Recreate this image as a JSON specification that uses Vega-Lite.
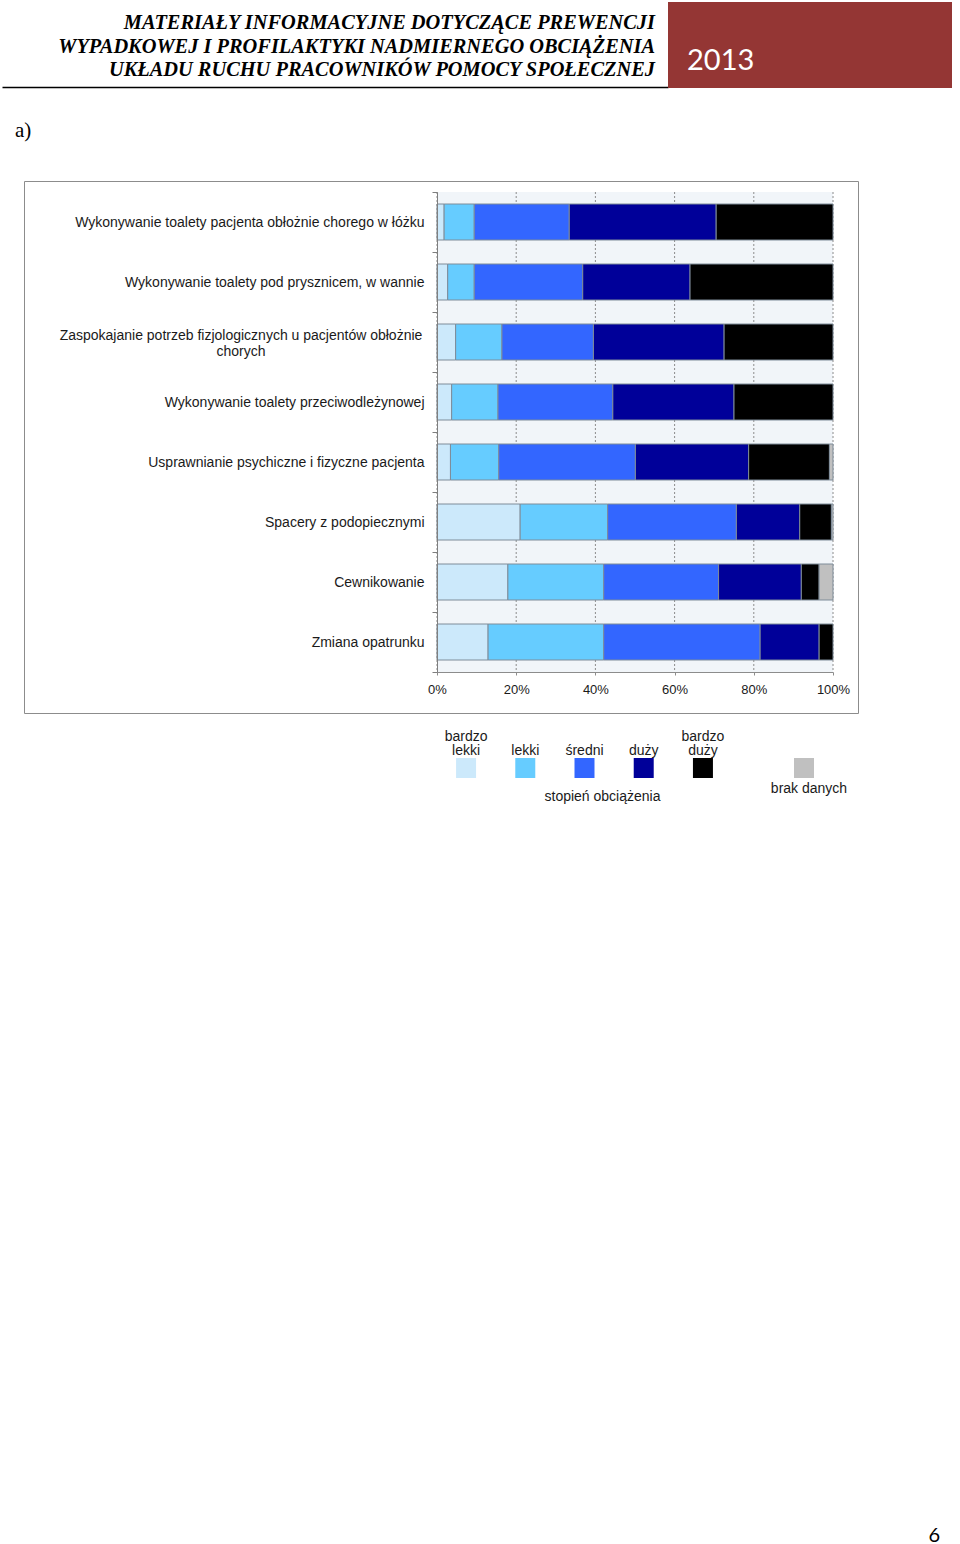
{
  "$schema": "https://vega.github.io/schema/vega-lite/v6.json",
  "padding": {"left": 2, "top": 2, "right": 0, "bottom": 0},
  "background": "white",
  "config": {"view": {"stroke": null}, "font": "Liberation Sans"},
  "datasets": {
    "header": [
      {"line": 1, "text": "MATERIAŁY INFORMACYJNE DOTYCZĄCE PREWENCJI"},
      {"line": 2, "text": "WYPADKOWEJ I PROFILAKTYKI NADMIERNEGO OBCIĄŻENIA"},
      {"line": 3, "text": "UKŁADU RUCHU PRACOWNIKÓW POMOCY SPOŁECZNEJ"}
    ],
    "year": [{"text": "2013"}],
    "section": [{"text": "a)"}],
    "gridTicks": [{"v": 0}, {"v": 20}, {"v": 40}, {"v": 60}, {"v": 80}, {"v": 100}],
    "cats": [
      {"czynnosc": "Wykonywanie toalety pacjenta obłożnie chorego w łóżku"},
      {"czynnosc": "Wykonywanie toalety pod prysznicem, w wannie"},
      {"czynnosc": "Zaspokajanie potrzeb fizjologicznych u pacjentów obłożnie chorych"},
      {"czynnosc": "Wykonywanie toalety przeciwodleżynowej"},
      {"czynnosc": "Usprawnianie psychiczne i fizyczne pacjenta"},
      {"czynnosc": "Spacery z podopiecznymi"},
      {"czynnosc": "Cewnikowanie"},
      {"czynnosc": "Zmiana opatrunku"}
    ],
    "bars": [
      {"czynnosc": "Wykonywanie toalety pacjenta obłożnie chorego w łóżku", "stopien": "bardzo lekki", "lvl": 1, "procent": 1.8},
      {"czynnosc": "Wykonywanie toalety pacjenta obłożnie chorego w łóżku", "stopien": "lekki", "lvl": 2, "procent": 7.6},
      {"czynnosc": "Wykonywanie toalety pacjenta obłożnie chorego w łóżku", "stopien": "średni", "lvl": 3, "procent": 24.0},
      {"czynnosc": "Wykonywanie toalety pacjenta obłożnie chorego w łóżku", "stopien": "duży", "lvl": 4, "procent": 37.1},
      {"czynnosc": "Wykonywanie toalety pacjenta obłożnie chorego w łóżku", "stopien": "bardzo duży", "lvl": 5, "procent": 29.5},
      {"czynnosc": "Wykonywanie toalety pod prysznicem, w wannie", "stopien": "bardzo lekki", "lvl": 1, "procent": 2.7},
      {"czynnosc": "Wykonywanie toalety pod prysznicem, w wannie", "stopien": "lekki", "lvl": 2, "procent": 6.7},
      {"czynnosc": "Wykonywanie toalety pod prysznicem, w wannie", "stopien": "średni", "lvl": 3, "procent": 27.4},
      {"czynnosc": "Wykonywanie toalety pod prysznicem, w wannie", "stopien": "duży", "lvl": 4, "procent": 27.1},
      {"czynnosc": "Wykonywanie toalety pod prysznicem, w wannie", "stopien": "bardzo duży", "lvl": 5, "procent": 36.1},
      {"czynnosc": "Zaspokajanie potrzeb fizjologicznych u pacjentów obłożnie chorych", "stopien": "bardzo lekki", "lvl": 1, "procent": 4.7},
      {"czynnosc": "Zaspokajanie potrzeb fizjologicznych u pacjentów obłożnie chorych", "stopien": "lekki", "lvl": 2, "procent": 11.7},
      {"czynnosc": "Zaspokajanie potrzeb fizjologicznych u pacjentów obłożnie chorych", "stopien": "średni", "lvl": 3, "procent": 23.1},
      {"czynnosc": "Zaspokajanie potrzeb fizjologicznych u pacjentów obłożnie chorych", "stopien": "duży", "lvl": 4, "procent": 33.0},
      {"czynnosc": "Zaspokajanie potrzeb fizjologicznych u pacjentów obłożnie chorych", "stopien": "bardzo duży", "lvl": 5, "procent": 27.5},
      {"czynnosc": "Wykonywanie toalety przeciwodleżynowej", "stopien": "bardzo lekki", "lvl": 1, "procent": 3.7},
      {"czynnosc": "Wykonywanie toalety przeciwodleżynowej", "stopien": "lekki", "lvl": 2, "procent": 11.7},
      {"czynnosc": "Wykonywanie toalety przeciwodleżynowej", "stopien": "średni", "lvl": 3, "procent": 29.0},
      {"czynnosc": "Wykonywanie toalety przeciwodleżynowej", "stopien": "duży", "lvl": 4, "procent": 30.6},
      {"czynnosc": "Wykonywanie toalety przeciwodleżynowej", "stopien": "bardzo duży", "lvl": 5, "procent": 25.0},
      {"czynnosc": "Usprawnianie psychiczne i fizyczne pacjenta", "stopien": "bardzo lekki", "lvl": 1, "procent": 3.4},
      {"czynnosc": "Usprawnianie psychiczne i fizyczne pacjenta", "stopien": "lekki", "lvl": 2, "procent": 12.2},
      {"czynnosc": "Usprawnianie psychiczne i fizyczne pacjenta", "stopien": "średni", "lvl": 3, "procent": 34.5},
      {"czynnosc": "Usprawnianie psychiczne i fizyczne pacjenta", "stopien": "duży", "lvl": 4, "procent": 28.6},
      {"czynnosc": "Usprawnianie psychiczne i fizyczne pacjenta", "stopien": "bardzo duży", "lvl": 5, "procent": 20.4},
      {"czynnosc": "Usprawnianie psychiczne i fizyczne pacjenta", "stopien": "brak danych", "lvl": 6, "procent": 0.9},
      {"czynnosc": "Spacery z podopiecznymi", "stopien": "bardzo lekki", "lvl": 1, "procent": 21.0},
      {"czynnosc": "Spacery z podopiecznymi", "stopien": "lekki", "lvl": 2, "procent": 22.1},
      {"czynnosc": "Spacery z podopiecznymi", "stopien": "średni", "lvl": 3, "procent": 32.5},
      {"czynnosc": "Spacery z podopiecznymi", "stopien": "duży", "lvl": 4, "procent": 16.0},
      {"czynnosc": "Spacery z podopiecznymi", "stopien": "bardzo duży", "lvl": 5, "procent": 8.0},
      {"czynnosc": "Spacery z podopiecznymi", "stopien": "brak danych", "lvl": 6, "procent": 0.4},
      {"czynnosc": "Cewnikowanie", "stopien": "bardzo lekki", "lvl": 1, "procent": 17.9},
      {"czynnosc": "Cewnikowanie", "stopien": "lekki", "lvl": 2, "procent": 24.2},
      {"czynnosc": "Cewnikowanie", "stopien": "średni", "lvl": 3, "procent": 29.0},
      {"czynnosc": "Cewnikowanie", "stopien": "duży", "lvl": 4, "procent": 20.9},
      {"czynnosc": "Cewnikowanie", "stopien": "bardzo duży", "lvl": 5, "procent": 4.5},
      {"czynnosc": "Cewnikowanie", "stopien": "brak danych", "lvl": 6, "procent": 3.5},
      {"czynnosc": "Zmiana opatrunku", "stopien": "bardzo lekki", "lvl": 1, "procent": 12.9},
      {"czynnosc": "Zmiana opatrunku", "stopien": "lekki", "lvl": 2, "procent": 29.2},
      {"czynnosc": "Zmiana opatrunku", "stopien": "średni", "lvl": 3, "procent": 39.5},
      {"czynnosc": "Zmiana opatrunku", "stopien": "duży", "lvl": 4, "procent": 14.9},
      {"czynnosc": "Zmiana opatrunku", "stopien": "bardzo duży", "lvl": 5, "procent": 3.5}
    ],
    "legend": [
      {"stopien": "bardzo lekki", "label": "bardzo\nlekki"},
      {"stopien": "lekki", "label": "\nlekki"},
      {"stopien": "średni", "label": "\nśredni"},
      {"stopien": "duży", "label": "\nduży"},
      {"stopien": "bardzo duży", "label": "bardzo\nduży"}
    ],
    "legendTitle": [{"text": "stopień obciążenia"}],
    "legendNA": [{"stopien": "brak danych", "label": "brak danych"}],
    "page": [{"text": "6"}]
  },
  "spacing": 0,
  "vconcat": [
    {
      "hconcat": [
        {
          "width": 666,
          "height": 85,
          "data": {"name": "header"},
          "mark": {"type": "text", "align": "right", "baseline": "middle", "font": "Liberation Serif", "fontSize": 20.4, "fontWeight": "bold", "fontStyle": "italic", "color": "black", "dx": -13, "dy": 2},
          "encoding": {
            "x": {"datum": 1, "type": "quantitative", "scale": {"domain": [0, 1]}, "axis": {"domain": true, "domainColor": "black", "domainWidth": 1.5, "ticks": false, "labels": false, "grid": false, "title": null}},
            "y": {"field": "line", "type": "ordinal", "scale": {"type": "point", "padding": 0.8}, "axis": null},
            "text": {"field": "text"}
          }
        },
        {
          "width": 284,
          "height": 86,
          "view": {"fill": "#943634", "stroke": null},
          "data": {"name": "year"},
          "mark": {"type": "text", "align": "left", "baseline": "middle", "font": "Lato", "fontSize": 29, "color": "white"},
          "encoding": {
            "x": {"datum": 0.067, "type": "quantitative", "scale": {"domain": [0, 1]}, "axis": null},
            "y": {"datum": 0.31, "type": "quantitative", "scale": {"domain": [0, 1]}, "axis": null},
            "text": {"field": "text"}
          }
        }
      ],
      "spacing": 0,
      "bounds": "flush"
    },
    {
      "width": 948,
      "height": 85,
      "data": {"name": "section"},
      "mark": {"type": "text", "align": "left", "baseline": "middle", "font": "Liberation Serif", "fontSize": 21, "color": "black"},
      "encoding": {
        "x": {"datum": 0.0137, "type": "quantitative", "scale": {"domain": [0, 1]}, "axis": null},
        "y": {"datum": 0.494, "type": "quantitative", "scale": {"domain": [0, 1]}, "axis": null},
        "text": {"field": "text"}
      }
    },
    {
      "hconcat": [
        {"width": 22, "height": 532, "data": {"values": []}, "mark": "point"},
        {
          "width": 834,
          "height": 532,
          "view": {"stroke": "#8c8c8c", "strokeWidth": 1, "fill": "white"},
          "layer": [
            {
              "data": {"name": "cats"},
              "mark": {"type": "rect", "color": "#f1f5f9"},
              "encoding": {
                "y": {"field": "czynnosc", "type": "nominal", "sort": null, "title": null,
                  "scale": {"domain": ["Wykonywanie toalety pacjenta obłożnie chorego w łóżku", "Wykonywanie toalety pod prysznicem, w wannie", "Zaspokajanie potrzeb fizjologicznych u pacjentów obłożnie chorych", "Wykonywanie toalety przeciwodleżynowej", "Usprawnianie psychiczne i fizyczne pacjenta", "Spacery z podopiecznymi", "Cewnikowanie", "Zmiana opatrunku"], "range": [11, 491], "paddingInner": 0, "paddingOuter": 0}},
                "x": {"datum": 0, "type": "quantitative"},
                "x2": {"datum": 100}
              }
            },
            {
              "data": {"name": "gridTicks"},
              "mark": {"type": "rule", "strokeDash": [2, 2], "color": "#8c8c8c", "strokeWidth": 1},
              "encoding": {
                "x": {"field": "v", "type": "quantitative"},
                "y": {"datum": "Wykonywanie toalety pacjenta obłożnie chorego w łóżku", "type": "nominal", "bandPosition": 0},
                "y2": {"datum": "Zmiana opatrunku", "bandPosition": 1}
              }
            },
            {
              "data": {"name": "bars"},
              "mark": {"type": "bar", "height": {"band": 0.6}, "stroke": "#7f8c99", "strokeWidth": 1},
              "encoding": {
                "y": {"field": "czynnosc", "type": "nominal", "sort": null, "title": null,
                  "scale": {"domain": ["Wykonywanie toalety pacjenta obłożnie chorego w łóżku", "Wykonywanie toalety pod prysznicem, w wannie", "Zaspokajanie potrzeb fizjologicznych u pacjentów obłożnie chorych", "Wykonywanie toalety przeciwodleżynowej", "Usprawnianie psychiczne i fizyczne pacjenta", "Spacery z podopiecznymi", "Cewnikowanie", "Zmiana opatrunku"], "range": [11, 491], "paddingInner": 0, "paddingOuter": 0},
                  "axis": {"orient": "left", "offset": -413, "tickBand": "extent", "domainColor": "#7f7f7f", "tickColor": "#7f7f7f", "tickSize": 5, "labelFont": "Liberation Sans", "labelFontSize": 14, "labelColor": "#1a1a1a", "labelLimit": 420, "labelLineHeight": 16, "grid": false,
                    "labelAlign": {"condition": {"test": "datum.value == 'Zaspokajanie potrzeb fizjologicznych u pacjentów obłożnie chorych'", "value": "center"}, "value": "right"},
                    "labelPadding": {"condition": {"test": "datum.value == 'Zaspokajanie potrzeb fizjologicznych u pacjentów obłożnie chorych'", "value": 191.5}, "value": 8},
                    "labelOffset": {"condition": {"test": "datum.value == 'Zaspokajanie potrzeb fizjologicznych u pacjentów obłożnie chorych'", "value": -7}, "value": 0},
                    "labelExpr": "datum.value == 'Zaspokajanie potrzeb fizjologicznych u pacjentów obłożnie chorych' ? ['Zaspokajanie potrzeb fizjologicznych u pacjentów obłożnie', 'chorych'] : datum.label"}},
                "x": {"field": "procent", "type": "quantitative", "stack": "zero", "title": null,
                  "scale": {"domain": [0, 100], "range": [413, 809]},
                  "axis": {"orient": "bottom", "offset": -41, "values": [0, 20, 40, 60, 80, 100], "labelExpr": "datum.value + '%'", "labelFlush": false, "labelOverlap": false, "grid": false, "domain": true, "domainColor": "#8c8c8c", "ticks": true, "tickSize": 3, "tickColor": "#8c8c8c", "labelPadding": 8, "labelFont": "Liberation Sans", "labelFontSize": 13, "labelColor": "#1a1a1a"}},
                "color": {"field": "stopien", "type": "nominal", "legend": null,
                  "scale": {"domain": ["bardzo lekki", "lekki", "średni", "duży", "bardzo duży", "brak danych"], "range": ["#cce9fb", "#66ccff", "#3366ff", "#000099", "#000000", "#c0c0c0"]}},
                "order": {"field": "lvl", "type": "quantitative", "sort": "ascending"}
              }
            }
          ]
        }
      ],
      "spacing": 0,
      "bounds": "flush"
    },
    {
      "hconcat": [
        {"width": 438, "height": 108, "data": {"values": []}, "mark": "point"},
        {
          "width": 289,
          "height": 108,
          "layer": [
            {
              "data": {"name": "legend"},
              "mark": {"type": "square", "filled": true, "size": 400, "opacity": 1},
              "encoding": {
                "x": {"field": "stopien", "type": "nominal", "sort": null, "scale": {"type": "point", "padding": 0.44}, "axis": null},
                "color": {"field": "stopien", "type": "nominal", "legend": null,
                  "scale": {"domain": ["bardzo lekki", "lekki", "średni", "duży", "bardzo duży", "brak danych"], "range": ["#cce9fb", "#66ccff", "#3366ff", "#000099", "#000000", "#c0c0c0"]}}
              }
            },
            {
              "data": {"name": "legend"},
              "mark": {"type": "text", "baseline": "bottom", "dy": -24, "fontSize": 14, "lineBreak": "\n", "lineHeight": 14, "color": "#1a1a1a"},
              "encoding": {
                "x": {"field": "stopien", "type": "nominal", "sort": null, "scale": {"type": "point", "padding": 0.44}, "axis": null},
                "text": {"field": "label"}
              }
            },
            {
              "data": {"name": "legendTitle"},
              "mark": {"type": "text", "baseline": "middle", "dx": 18, "dy": 29, "fontSize": 14, "color": "#1a1a1a"},
              "encoding": {"text": {"field": "text"}}
            }
          ]
        },
        {"width": 35, "height": 108, "data": {"values": []}, "mark": "point"},
        {
          "width": 80,
          "height": 108,
          "data": {"name": "legendNA"},
          "layer": [
            {
              "mark": {"type": "square", "filled": true, "size": 400, "opacity": 1},
              "encoding": {
                "color": {"field": "stopien", "type": "nominal", "legend": null,
                  "scale": {"domain": ["bardzo lekki", "lekki", "średni", "duży", "bardzo duży", "brak danych"], "range": ["#cce9fb", "#66ccff", "#3366ff", "#000099", "#000000", "#c0c0c0"]}}
              }
            },
            {
              "mark": {"type": "text", "baseline": "middle", "dx": 5, "dy": 21, "fontSize": 14, "color": "#1a1a1a"},
              "encoding": {"text": {"field": "label"}}
            }
          ]
        }
      ],
      "spacing": 0,
      "bounds": "flush"
    },
    {
      "width": 948,
      "height": 720,
      "data": {"name": "page"},
      "mark": {"type": "text", "align": "right", "baseline": "alphabetic", "font": "Lato", "fontSize": 20, "dx": -10, "color": "black"},
      "encoding": {
        "x": {"datum": 1, "type": "quantitative", "scale": {"domain": [0, 1]}, "axis": null},
        "y": {"datum": 0, "type": "quantitative", "scale": {"domain": [0, 1]}, "axis": null},
        "text": {"field": "text"}
      }
    }
  ]
}
